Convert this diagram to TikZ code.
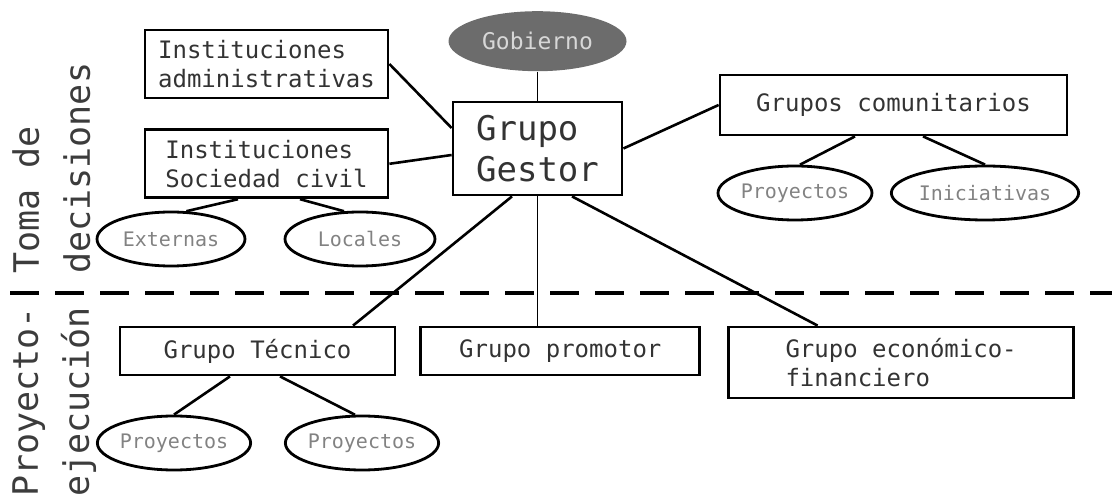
\documentclass[tikz,border=0pt]{standalone}
\usepackage{fontspec}
\usepackage{tikz}
\usetikzlibrary{positioning,shapes.geometric}
\newfontfamily\gothic{DejaVu Sans Mono}
\definecolor{inkgray}{RGB}{51,51,51}
\definecolor{ovaltext}{RGB}{130,130,130}
\definecolor{govfill}{RGB}{108,108,108}
\definecolor{govtext}{RGB}{215,215,215}
\definecolor{sidegray}{RGB}{60,60,60}

\begin{document}
\begin{tikzpicture}[x=0.5pt,y=-0.5pt, every node/.style={font=\gothic\fontsize{12}{14.5}\selectfont,text=inkgray}, box/.style={draw,line width=1.4pt,inner sep=0pt,align=left}, oval/.style={draw,ellipse,line width=1.4pt,inner sep=0pt,minimum height=27pt,text=ovaltext,font=\gothic\fontsize{10}{12}\selectfont}, gov/.style={ellipse,fill=govfill,inner sep=0pt,minimum width=89pt,minimum height=30pt,text=govtext,font=\gothic\fontsize{11.5}{13}\selectfont}, side/.style={rotate=90,anchor=north west,align=left,inner sep=0pt,text=sidegray,font=\gothic\fontsize{17.5}{25.5}\selectfont}, link/.style={line width=1.3pt}, thinlink/.style={line width=0.9pt}, dashline/.style={line width=1.9pt,dash pattern=on 14.5pt off 8pt}]
\useasboundingbox (0,0) rectangle (1112,501);
% decision level
\node[box,minimum width=84.5pt,minimum height=46.5pt,font=\gothic\fontsize{17}{20.5}\selectfont] (gestor) at (537.5,148.5) {Grupo\\Gestor};
\node[gov,above=14.5pt of gestor] (gobierno) {Gobierno};
\node[box,minimum width=121.5pt,minimum height=34pt] (admin) at (266.5,64) {Instituciones\\administrativas};
\node[box,minimum width=121.5pt,minimum height=34pt,below=14.5pt of admin] (civil) {Instituciones\\Sociedad civil};
\node[oval,minimum width=74pt] (externas) at (171,239) {Externas};
\node[oval,minimum width=75pt] (locales) at (360,239) {Locales};
\node[box,minimum width=173.5pt,minimum height=30pt] (comunit) at (893.5,105) {Grupos comunitarios};
\node[oval,minimum width=77pt] (proyC) at (795,193) {Proyectos};
\node[oval,minimum width=75pt] (inic) at (985,193) {Iniciativas};
% execution level
\node[box,minimum width=137.5pt,minimum height=24pt] (tecnico) at (257.5,351) {Grupo Técnico};
\node[box,minimum width=139.5pt,minimum height=24pt,right=11.5pt of tecnico] (promotor) {Grupo promotor};
\node[box,minimum width=172.5pt,minimum height=35.5pt,anchor=north west] (economico) at ([xshift=13pt]promotor.north east) {Grupo económico-\\financiero};
\node[oval,minimum width=74.5pt] (proyT1) at (174,443) {Proyectos};
\node[oval,minimum width=75.5pt] (proyT2) at (362,443) {Proyectos};
% side labels
\node[side] (toma) at (12,274) {Toma de\\decisiones};
\node[side] (ejec) at (12,497) {Proyecto-\\ejecución};
\coordinate (dl) at (10,293);
\coordinate (dr) at (1112,293);
\draw[dashline] (dl) -- (dr);
% links
\draw[link] (admin.east) -- ([yshift=10.25pt]gestor.west);
\draw[link] (civil.east) -- ([yshift=-3.25pt]gestor.west);
\draw[thinlink] (gobierno) -- (gestor);
\draw[link] (gestor.east) -- (comunit.west);
\draw[link] ([xshift=-12.75pt]gestor.south) -- ([xshift=47.75pt]tecnico.north);
\draw[thinlink] (gestor.south) -- (gestor.south |- promotor.north);
\draw[link] ([xshift=17.25pt]gestor.south) -- ([xshift=-41.75pt]economico.north);
\draw[link] ([xshift=-14.25pt]civil.south) -- (externas.61);
\draw[link] ([xshift=16.75pt]civil.south) -- (locales.120);
\draw[link] ([xshift=-19.25pt]comunit.south) -- (proyC.80);
\draw[link] ([xshift=14.75pt]comunit.south) -- (inic.north);
\draw[link] ([xshift=-13.75pt]tecnico.south) -- (proyT1.north);
\draw[link] ([xshift=11.25pt]tecnico.south) -- (proyT2.104);
\end{tikzpicture}
\end{document}
